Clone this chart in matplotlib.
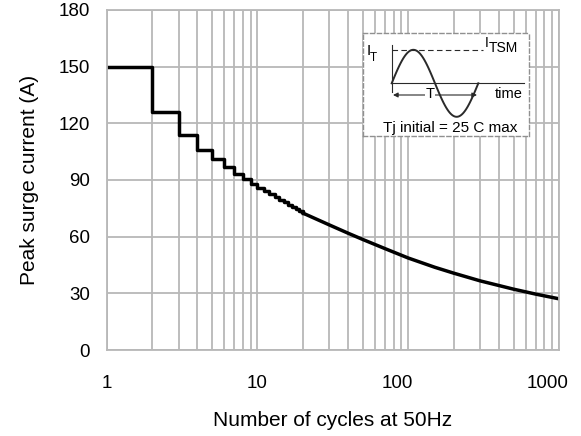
import numpy as np
import matplotlib
matplotlib.use("Agg")
import matplotlib.pyplot as plt
from matplotlib.transforms import ScaledTranslation

plt.rcParams['font.family'] = ['Liberation Sans', 'DejaVu Sans']

# stair part (one value per whole cycle)
step_cycles = [1, 2, 3, 4, 5, 6, 7, 8, 9, 10, 11, 12, 13, 14, 15, 16, 17, 18, 19, 20]
step_current = [150, 126, 114, 106, 101, 97, 93, 90.5, 88, 86, 84.1, 82.4, 80.9, 79.4,
                78.1, 76.8, 75.7, 74.6, 73.5, 72.5]
# smooth part
curve_cycles = [20, 30, 40, 50, 70, 100, 150, 200, 300, 500, 700, 1000]
curve_current = [72.5, 66.2, 61.8, 58.5, 53.7, 48.7, 43.8, 40.7, 36.6, 32.2, 29.6, 27.1]

x_ticks = [1, 10, 100, 1000]
y_ticks = [0, 30, 60, 90, 120, 150, 180]

W, H = 581, 436
fig = plt.figure(figsize=(W / 100, H / 100), dpi=100)
ax = fig.add_axes([106.7 / W, (H - 350) / H, 452.3 / W, 340 / H])

grid_col = '#b8b8b8'
ax.set_xscale('log')
ax.set_xlim(1, 1000)
ax.set_ylim(0, 180)
ax.set_xticks(x_ticks)
ax.set_xticklabels([str(v) for v in x_ticks])
ax.set_yticks(y_ticks)
ax.grid(which='both', axis='x', color=grid_col, lw=1.3)
ax.grid(which='major', axis='y', color=grid_col, lw=1.3)
for s in ax.spines.values():
    s.set_color(grid_col)
    s.set_linewidth(1.3)
ax.tick_params(which='both', length=0)
ax.tick_params(axis='x', pad=18, labelsize=13.5)
ax.tick_params(axis='y', pad=12, labelsize=13.5)
# the scanned labels for 100 and 1000 sit a little left of their lines
for lab in ax.get_xticklabels()[2:]:
    lab.set_transform(lab.get_transform() + ScaledTranslation(-0.11, 0, fig.dpi_scale_trans))

ax.plot(step_cycles, step_current, color='black', lw=2.5, drawstyle='steps-post')
ax.plot(curve_cycles, curve_current, color='black', lw=2.5, solid_joinstyle='round')

ax.set_xlabel('Number of cycles at 50Hz', fontsize=15, labelpad=14)
ax.set_ylabel('Peak surge current (A)', fontsize=15, labelpad=14)

# inset diagram, in its own pixel units
ins = fig.add_axes([363 / W, (H - 136.5) / H, 165.5 / W, 103.5 / H])
ins.set_xlim(0, 165.5)
ins.set_ylim(103.5, 0)
ins.set_xticks([])
ins.set_yticks([])
for s in ins.spines.values():
    s.set_color('#909090')
    s.set_linestyle((0, (3, 2)))
    s.set_linewidth(1.0)

ink = '#2a2a2a'
ins.plot([28.7, 28.7], [12, 58.7], color=ink, lw=0.8)
ins.plot([28.7, 161], [50.3, 50.3], color=ink, lw=0.8)
ins.plot([28.7, 120], [17, 17], color=ink, lw=0.8, ls=(0, (5, 3)))
t = np.linspace(0, 1, 120)
ins.plot(28.7 + 86.6 * t, 50.3 - 33.5 * np.sin(2 * np.pi * t), color=ink, lw=1.4)
ins.annotate('', xy=(30, 62), xytext=(114, 62),
             arrowprops=dict(arrowstyle='<|-|>', color=ink, lw=0.8,
                             mutation_scale=7, shrinkA=0, shrinkB=0))
ins.text(67, 61, 'T', fontsize=10.5, ha='center', va='center',
         bbox=dict(fc='white', ec='none', pad=0.3))
ins.text(3.5, 18, 'I', fontsize=11, ha='left', va='center')
ins.text(7, 25, 'T', fontsize=8.5, ha='left', va='center')
ins.text(121.5, 10, 'I', fontsize=10, ha='left', va='center')
ins.text(126, 15.5, 'TSM', fontsize=10, ha='left', va='center')
ins.text(132, 61, 'time', fontsize=10.5, ha='left', va='center')
ins.text(87, 95, 'Tj initial = 25 C max', fontsize=11, ha='center', va='center')

fig.savefig('out.png', dpi=100)
